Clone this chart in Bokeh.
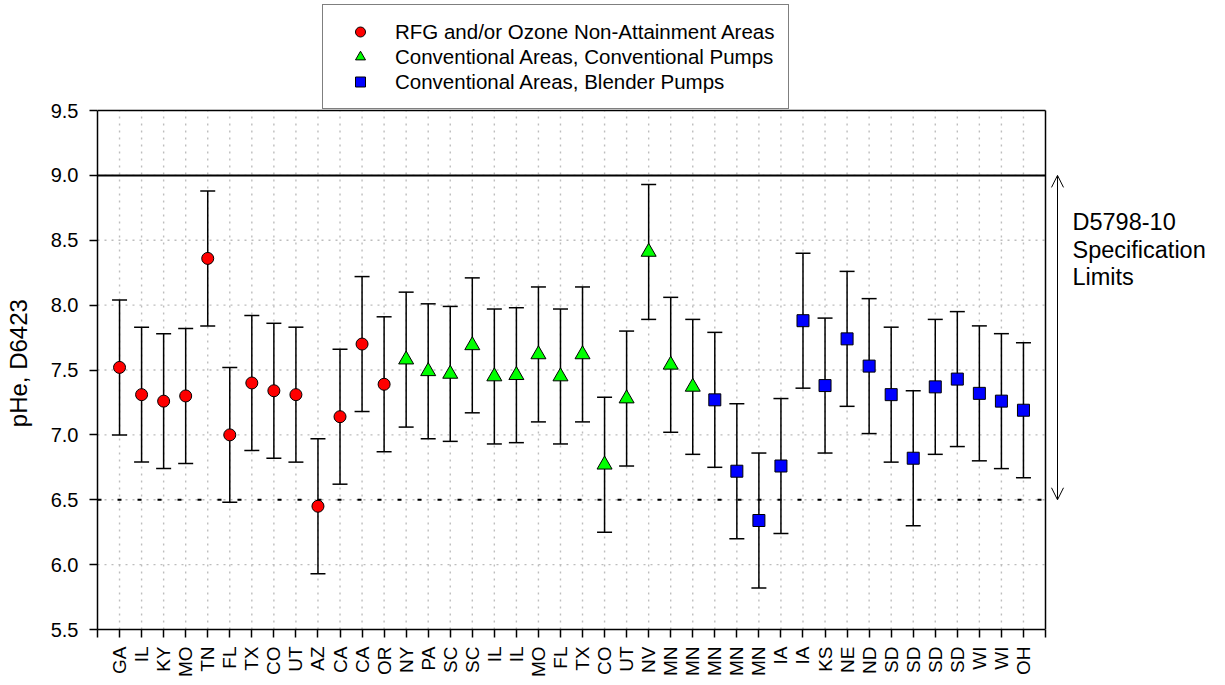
import math
from bokeh.plotting import figure
from bokeh.models import (Range1d, FixedTicker, ColumnDataSource,
                          Legend, LegendItem, Arrow, OpenHead, Label)
from bokeh.embed import file_html
from bokeh.resources import INLINE

# ---------------- data ----------------
states_rfg = ["GA", "IL", "KY", "MO", "TN", "FL", "TX", "CO", "UT", "AZ", "CA", "CA", "OR"]
phe_rfg = [7.52, 7.31, 7.26, 7.30, 8.36, 7.00, 7.40, 7.34, 7.31, 6.45, 7.14, 7.70, 7.39]

states_conv = ["NY", "PA", "SC", "SC", "IL", "IL", "MO", "FL", "TX", "CO", "UT", "NV", "MN", "MN"]
phe_conv = [7.58, 7.49, 7.47, 7.69, 7.45, 7.46, 7.62, 7.45, 7.62, 6.77, 7.28, 8.41, 7.54, 7.37]

states_blend = ["MN", "MN", "MN", "IA", "IA", "KS", "NE", "ND", "SD", "SD", "SD", "SD", "WI", "WI", "OH"]
phe_blend = [7.27, 6.72, 6.34, 6.76, 7.88, 7.38, 7.74, 7.53, 7.31, 6.82, 7.37, 7.43, 7.32, 7.26, 7.19]

reproducibility = 0.52          # half-width of the error bars
spec_min, spec_max = 6.5, 9.0   # D5798-10 specification limits
y_ticks = [5.5, 6.0, 6.5, 7.0, 7.5, 8.0, 8.5, 9.0, 9.5]

series_names = ["RFG and/or Ozone Non-Attainment Areas",
                "Conventional Areas, Conventional Pumps",
                "Conventional Areas, Blender Pumps"]
y_label = "pHe, D6423"
spec_label = "D5798-10\nSpecification\nLimits"

# ---------------- layout constants (pixels) ----------------
FONT = "Liberation Sans"
W, H = 1225, 685
LEFT, BOTTOM, TOP, RIGHT = 97, 56, 3, 2
BOX_W, BOX_H = 948, 519          # visible plotting box
EXTRA_TOP = 107                  # room above the box (legend)
FRAME_W = W - LEFT - RIGHT
FRAME_H = H - TOP - BOTTOM

all_states = states_rfg + states_conv + states_blend
n = len(all_states)
x0, x1 = 0, n + 1
y0, y1 = y_ticks[0], y_ticks[-1]
px_x = BOX_W / (x1 - x0)
px_y = BOX_H / (y1 - y0)

p = figure(frame_width=FRAME_W, frame_height=FRAME_H,
           x_range=Range1d(x0, x0 + FRAME_W / px_x),
           y_range=Range1d(y0, y1 + EXTRA_TOP / px_y),
           output_backend="svg", toolbar_location=None,
           min_border_left=LEFT, min_border_right=RIGHT,
           min_border_top=TOP, min_border_bottom=BOTTOM,
           background_fill_color="white", border_fill_color="white")
p.outline_line_color = None
p.xgrid.visible = False
p.ygrid.visible = False

GRID = dict(line_color="#bdbdbd", line_dash="2 5", line_width=1.4)

# dotted grid limited to the plotting box
gx = list(range(1, n + 1))
p.segment(x0=gx, y0=[y0] * len(gx), x1=gx, y1=[y1] * len(gx), **GRID)
gy = [t for t in y_ticks if y0 < t < y1]
p.segment(x0=[x0] * len(gy), y0=gy, x1=[x1] * len(gy), y1=gy, **GRID)

# box top and right edges
p.segment(x0=[x0, x1], y0=[y1, y0], x1=[x1, x1], y1=[y1, y1], line_color="black", line_width=1.5)

# spec lines
p.segment(x0=[x0], y0=[spec_max], x1=[x1], y1=[spec_max], line_color="black", line_width=2)
p.segment(x0=[x0], y0=[spec_min], x1=[x1], y1=[spec_min], line_color="black", line_width=2,
          line_dash="4 16")

# axes
p.xaxis.bounds = (x0, x1)
p.xaxis.ticker = FixedTicker(ticks=list(range(x0, x1 + 1)))
overrides = {i + 1: s for i, s in enumerate(all_states)}
overrides[x0] = ""
overrides[x1] = ""
p.xaxis.major_label_overrides = overrides
p.xaxis.major_label_orientation = math.pi / 2
p.xaxis.major_label_standoff = 9
p.xaxis.major_label_text_font_size = "19px"

# axis label is centred on the whole frame (which includes the legend room above the box);
# trailing no-break spaces move the visible text down to the centre of the box
pad = "\u00a0" * 14
p.yaxis.bounds = (y0, y1)
p.yaxis.ticker = FixedTicker(ticks=y_ticks)
p.yaxis.major_label_overrides = {t: f"{t:.1f}" for t in y_ticks}
p.yaxis.major_label_standoff = 11
p.yaxis.major_label_text_font_size = "20px"
p.yaxis.axis_label = y_label + pad
p.yaxis.axis_label_text_font_size = "24px"
p.yaxis.axis_label_text_font_style = "normal"
p.yaxis.axis_label_standoff = 16
p.yaxis.axis_label_text_color = "black"

for ax in (p.xaxis, p.yaxis):
    ax.axis_line_color = "black"
    ax.axis_line_width = 1.5
    ax.major_tick_line_color = "black"
    ax.major_tick_line_width = 1.5
    ax.major_tick_out = 8
    ax.major_tick_in = 0
    ax.minor_tick_line_color = None
    ax.major_label_text_color = "black"
    ax.major_label_text_font = FONT
    ax.axis_label_text_font = FONT

# series
groups = [
    (states_rfg, phe_rfg, "circle", "#ff0000", 12),
    (states_conv, phe_conv, "triangle", "#00ff00", 15),
    (states_blend, phe_blend, "square", "#0000ff", 12),
]
offset = 0
items = []
for (st, vals, marker, color, size), name in zip(groups, series_names):
    xs = [offset + i + 1 for i in range(len(st))]
    offset += len(st)
    src = ColumnDataSource(dict(x=xs, y=vals,
                                upper=[v + reproducibility for v in vals],
                                lower=[v - reproducibility for v in vals]))
    # error bars with caps
    p.segment(x0="x", y0="lower", x1="x", y1="upper", source=src,
              line_color="black", line_width=1.5)
    p.scatter("x", "upper", source=src, marker="dash", size=15,
              line_color="black", line_width=1.5)
    p.scatter("x", "lower", source=src, marker="dash", size=15,
              line_color="black", line_width=1.5)
    r = p.scatter("x", "y", source=src, marker=marker, size=size, fill_color=color,
                  line_color="black", line_width=1)
    items.append(LegendItem(label=name, renderers=[r]))

legend = Legend(items=items, location=(225, BOX_H + 1), orientation="vertical",
                label_text_font=FONT, label_text_font_size="20.5px", label_text_color="black",
                padding=14, spacing=0, margin=0, glyph_width=46, glyph_height=25,
                label_height=25, label_standoff=12,
                border_line_color="black", border_line_width=1.2,
                background_fill_color="white", background_fill_alpha=1.0)
p.add_layout(legend)

# spec-limit arrow + label right of the box
ax_x = x1 + 12 / px_x
p.add_layout(Arrow(x_start=ax_x, y_start=spec_min, x_end=ax_x, y_end=spec_max,
                   line_color="black", line_width=1,
                   start=OpenHead(size=12, line_color="black", line_width=1),
                   end=OpenHead(size=12, line_color="black", line_width=1)))
p.add_layout(Label(x=x1 + 27 / px_x, y=spec_max - 34 / px_y, text=spec_label, text_font=FONT,
                   text_font_size="23.5px", text_baseline="top", text_align="left",
                   text_line_height=1.06, text_color="black"))

open("out.html", "w").write(file_html(p, INLINE))
